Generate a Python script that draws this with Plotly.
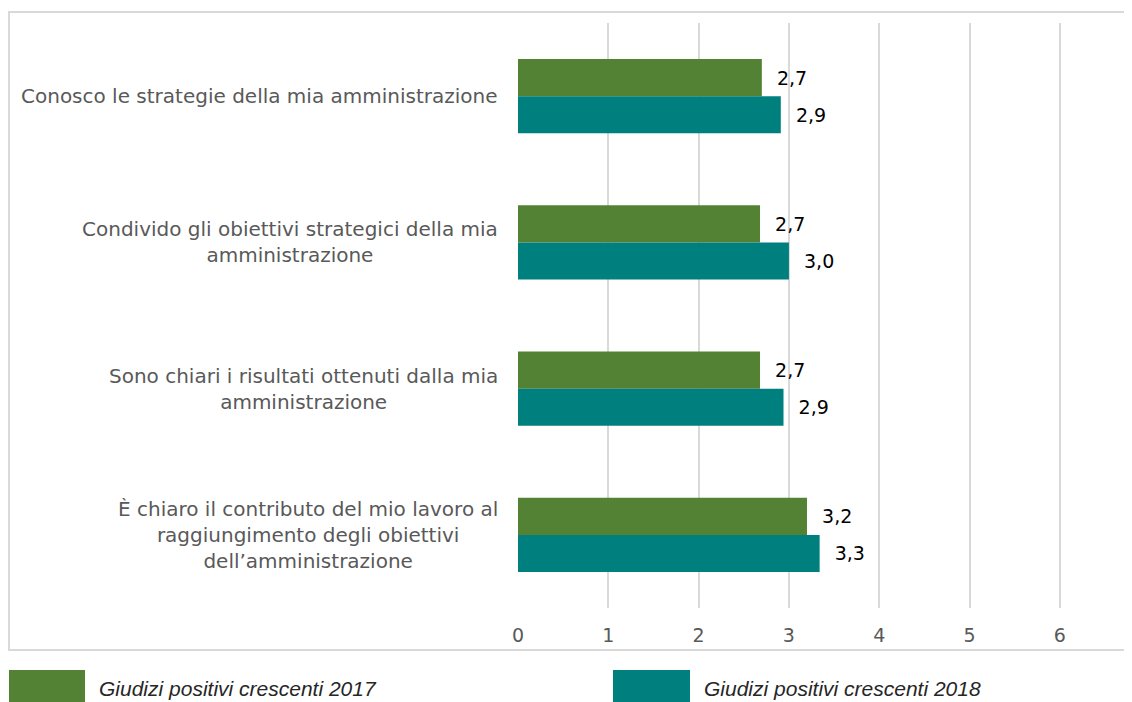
import plotly.graph_objects as go

# data
categories = [
    "Conosco le strategie della mia amministrazione",
    "Condivido gli obiettivi strategici della mia<br>amministrazione",
    "Sono chiari i risultati ottenuti dalla mia<br>amministrazione",
    "È chiaro il contributo del mio lavoro al<br>raggiungimento degli obiettivi<br>dell’amministrazione",
]
values_2017 = [2.70, 2.68, 2.68, 3.20]
values_2018 = [2.91, 3.00, 2.94, 3.34]
series_names = ["Giudizi positivi crescenti 2017", "Giudizi positivi crescenti 2018"]
colors = ["#548235", "#007f7f"]
x_ticks = [0, 1, 2, 3, 4, 5, 6]

# the page body adds an 8px margin, so the figure is 8px smaller
OFF = 8
W, H = 1132 - OFF, 702 - OFF
ML, MR, MT, MB = 518 - OFF, 27, 23 - OFF, 94
PW, PH = W - ML - MR, H - MT - MB


def px_x(px):
    # page pixel -> paper x
    return (px - OFF - ML) / PW


def px_y(py):
    # page pixel -> paper y
    return (H - MB - (py - OFF)) / PH


fig = go.Figure()
for name, vals, col in zip(series_names, [values_2017, values_2018], colors):
    fig.add_trace(
        go.Bar(
            y=categories,
            x=vals,
            name=name,
            orientation="h",
            marker=dict(color=col, line=dict(width=0)),
            texttemplate="\u00a0\u00a0%{x:.1f}",
            textposition="outside",
            textfont=dict(family="DejaVu Sans", size=19, color="#000000"),
            cliponaxis=False,
        )
    )

# category labels as annotations so multi-line text is centred
annotations = []
for cat in categories:
    annotations.append(
        dict(
            x=0, xref="paper", y=cat, yref="y",
            text=cat, showarrow=False,
            xanchor="right", yanchor="middle", align="center",
            xshift=-18,
            font=dict(family="DejaVu Sans", size=20, color="#595959"),
        )
    )

# legend drawn by hand to get the large swatches
legend_items = [(9, 85, 97), (613, 690, 702)]
shapes = [
    dict(
        type="rect", xref="paper", yref="paper",
        x0=px_x(9), x1=px_x(1145), y0=px_y(650), y1=px_y(12),
        line=dict(color="#d9d9d9", width=2), fillcolor="rgba(0,0,0,0)",
        layer="below",
    )
]
for (sx0, sx1, tx), name, col in zip(legend_items, series_names, colors):
    shapes.append(
        dict(
            type="rect", xref="paper", yref="paper",
            x0=px_x(sx0), x1=px_x(sx1), y0=px_y(712), y1=px_y(670),
            line=dict(width=0), fillcolor=col,
        )
    )
    annotations.append(
        dict(
            x=px_x(tx), xref="paper", y=px_y(688), yref="paper",
            text="<i>" + name + "</i>", showarrow=False,
            xanchor="left", yanchor="middle",
            font=dict(family="Liberation Sans", size=21, color="#262626"),
        )
    )

fig.update_layout(
    width=W,
    height=H,
    margin=dict(l=ML, r=MR, t=MT, b=MB),
    paper_bgcolor="white",
    plot_bgcolor="white",
    barmode="group",
    bargap=0.494,
    bargroupgap=0,
    separators=",.",
    showlegend=False,
    shapes=shapes,
    annotations=annotations,
    xaxis=dict(
        range=[0, 6.5],
        tickvals=x_ticks,
        showgrid=True,
        gridcolor="#d9d9d9",
        gridwidth=1.5,
        zeroline=False,
        showline=False,
        ticks="",
        ticklabelstandoff=14,
        tickfont=dict(family="DejaVu Sans", size=19, color="#595959"),
    ),
    yaxis=dict(
        autorange="reversed",
        showticklabels=False,
        showgrid=False,
        zeroline=False,
        showline=False,
        ticks="",
    ),
)

fig.write_html("out.html")
